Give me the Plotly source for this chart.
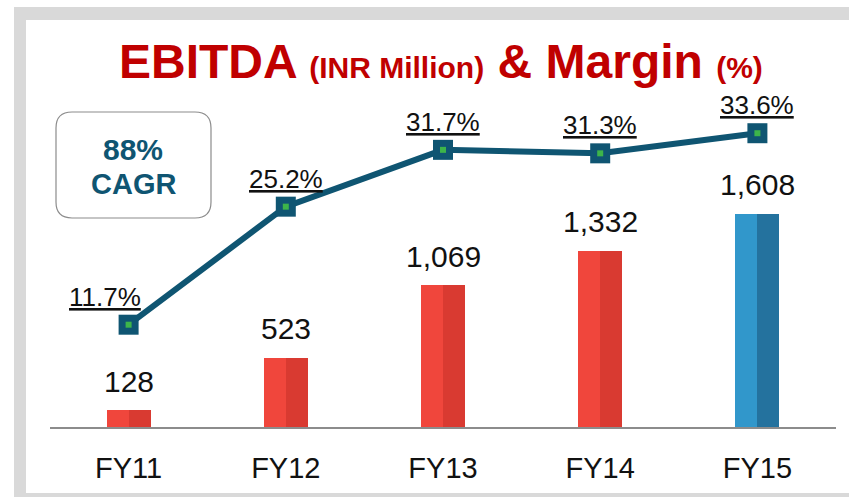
import plotly.graph_objects as go

categories = ["FY11", "FY12", "FY13", "FY14", "FY15"]
ebitda = [128, 523, 1069, 1332, 1608]
ebitda_labels = ["128", "523", "1,069", "1,332", "1,608"]
margin = [11.7, 25.2, 31.7, 31.3, 33.6]
margin_labels = ["11.7%", "25.2%", "31.7%", "31.3%", "33.6%"]
bar_colors = ["#F0463C", "#F0463C", "#F0463C", "#F0463C", "#3197CB"]
bar_shade = ["#D93A31", "#D93A31", "#D93A31", "#D93A31", "#24729E"]

W, H = 849, 497
L, R, T, B = 50, 13, 100, 70
pw, ph = W - L - R, H - T - B

def px(x):
    return (x - L) / pw

def py(y):
    return (H - B - y) / ph

xs = list(range(len(categories)))
fig = go.Figure()
fig.add_trace(go.Bar(x=xs, y=ebitda, width=0.28, offset=-0.14,
                     marker=dict(color=bar_colors, line=dict(width=0)),
                     hoverinfo="skip", showlegend=False))
fig.add_trace(go.Bar(x=xs, y=ebitda, width=0.14, offset=0.0,
                     marker=dict(color=bar_shade, line=dict(width=0)),
                     hoverinfo="skip", showlegend=False))
fig.add_trace(go.Scatter(x=xs, y=margin, yaxis="y2", mode="lines+markers",
                         line=dict(color="#0F5572", width=6),
                         marker=dict(symbol="square", size=20, color="#0F5572"),
                         hoverinfo="skip", showlegend=False))
fig.add_trace(go.Scatter(x=xs, y=margin, yaxis="y2", mode="markers",
                         marker=dict(symbol="square", size=6, color="#3DB54A"),
                         hoverinfo="skip", showlegend=False))

ann = []
for i, (v, t) in enumerate(zip(ebitda, ebitda_labels)):
    ann.append(dict(x=i, y=v, xref="x", yref="y", text=t, showarrow=False,
                    xanchor="center", yanchor="middle", yshift=29,
                    font=dict(family="Liberation Sans, Arial", size=30, color="#111111")))
for i, (v, t) in enumerate(zip(margin, margin_labels)):
    ann.append(dict(x=i, y=v, xref="x", yref="y2", text="<u>" + t + "</u>", showarrow=False,
                    xanchor="center", yanchor="middle", yshift=28,
                    xshift=(-24 if i == 0 else 0),
                    font=dict(family="Liberation Sans, Arial", size=26, color="#111111")))

ann.append(dict(x=px(441), y=py(62), xref="paper", yref="paper", showarrow=False,
                xanchor="center", yanchor="middle",
                text=("<b>EBITDA <span style='font-size:30px'>(INR Million)</span>"
                      " &amp; Margin <span style='font-size:30px'>(%)</span></b>"),
                font=dict(family="Liberation Sans, Arial", size=48, color="#C00000")))
ann.append(dict(x=px(133), y=py(149), xref="paper", yref="paper", showarrow=False,
                text="<b>88%</b>", xanchor="center", yanchor="middle",
                font=dict(family="Liberation Sans, Arial", size=30, color="#0F5572")))
ann.append(dict(x=px(133), y=py(184), xref="paper", yref="paper", showarrow=False,
                text="<b>CAGR</b>", xanchor="center", yanchor="middle",
                font=dict(family="Liberation Sans, Arial", size=29, color="#0F5572")))

# rounded box path in paper coords
x0, x1, y0, y1, r = 56, 211, 112, 218, 16
def P(x, y):
    return f"{px(x):.5f},{py(y):.5f}"
path = (f"M {P(x0 + r, y0)} L {P(x1 - r, y0)} Q {P(x1, y0)} {P(x1, y0 + r)} "
        f"L {P(x1, y1 - r)} Q {P(x1, y1)} {P(x1 - r, y1)} "
        f"L {P(x0 + r, y1)} Q {P(x0, y1)} {P(x0, y1 - r)} "
        f"L {P(x0, y0 + r)} Q {P(x0, y0)} {P(x0 + r, y0)} Z")

shapes = [
    dict(type="rect", xref="paper", yref="paper", x0=px(14), x1=px(W + 5), y0=py(H + 5), y1=py(7),
         fillcolor="#D9D9D9", line=dict(width=0), layer="below"),
    dict(type="rect", xref="paper", yref="paper", x0=px(26), x1=px(W + 5), y0=py(493), y1=py(20),
         fillcolor="#FFFFFF", line=dict(width=0), layer="below"),
    dict(type="path", xref="paper", yref="paper", path=path, fillcolor="rgba(255,255,255,0)",
         line=dict(color="#8C8C8C", width=1.2), layer="above"),
]

fig.update_layout(
    width=W, height=H,
    margin=dict(l=L, r=R, t=T, b=B, pad=0),
    paper_bgcolor="#FFFFFF", plot_bgcolor="rgba(0,0,0,0)",
    barmode="overlay", bargap=0,
    xaxis=dict(tickmode="array", tickvals=xs, ticktext=categories, range=[-0.5, 4.5],
               showgrid=False, zeroline=False, showline=True, linecolor="#8C8C8C", linewidth=2,
               ticks="", ticklabelstandoff=14,
               tickfont=dict(family="Liberation Sans, Arial", size=29, color="#111111")),
    yaxis=dict(range=[0, 2468], visible=False, showgrid=False, zeroline=False),
    yaxis2=dict(range=[0, 37.4], overlaying="y", visible=False, showgrid=False, zeroline=False),
    annotations=ann, shapes=shapes,
    font=dict(family="Liberation Sans, Arial"),
    hovermode=False,
)

fig.write_html("out.html", config={"displayModeBar": False},
               post_script="document.body.style.margin='0';document.body.style.padding='0';")
